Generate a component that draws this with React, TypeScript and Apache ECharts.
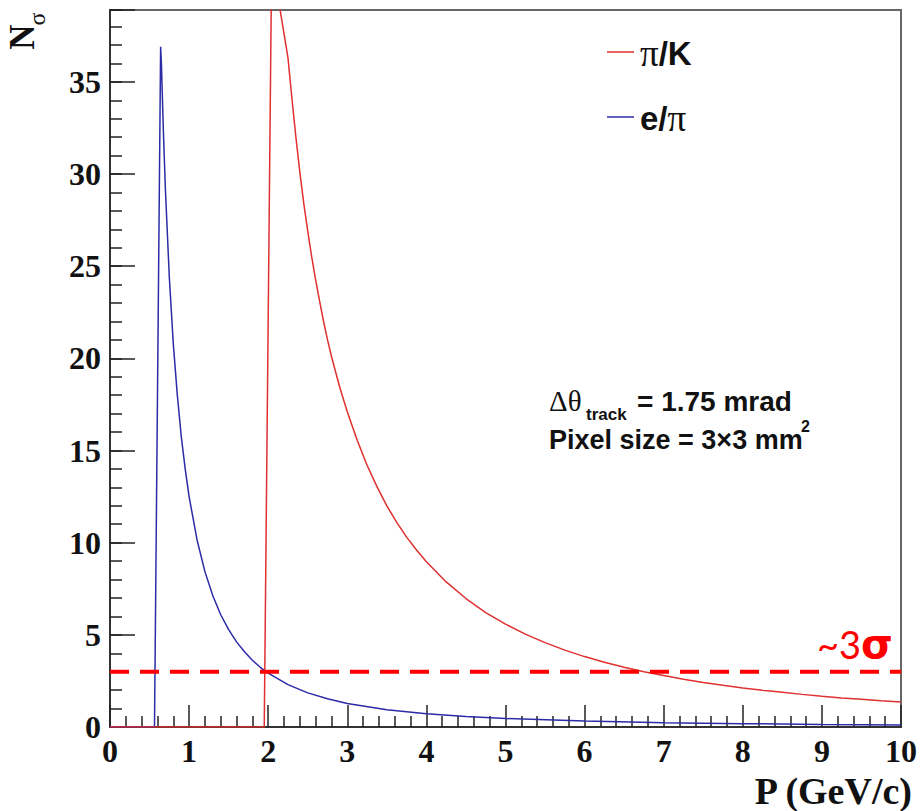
import React, { useEffect, useRef } from "react";
import * as echarts from "echarts";

// pi/K separation (momentum GeV/c, N sigma)
const piKMomentum = [0, 1.95, 2.044, 2.25, 2.3, 2.35, 2.4, 2.45, 2.5, 2.55, 2.6, 2.65, 2.7, 2.75, 2.8, 2.85, 2.9, 2.95, 3.0, 3.125, 3.25, 3.375, 3.5, 3.625, 3.75, 3.875, 4.0, 4.25, 4.5, 4.75, 5.0, 5.25, 5.5, 5.75, 6.0, 6.25, 6.5, 6.75, 7.0, 7.25, 7.5, 7.75, 8.0, 8.25, 8.5, 8.75, 9.0, 9.25, 9.5, 9.75, 10.0];
const piKNsigma = [0, 0, 41.7, 36.3, 34.1, 32.0, 30.1, 28.4, 26.9, 25.5, 24.25, 23.1, 22.0, 21.0, 20.1, 19.3, 18.5, 17.8, 17.1, 15.56, 14.2, 13.04, 12.0, 11.1, 10.3, 9.6, 8.97, 7.87, 6.97, 6.21, 5.58, 5.04, 4.58, 4.17, 3.82, 3.51, 3.24, 3.0, 2.79, 2.59, 2.42, 2.26, 2.12, 1.99, 1.88, 1.77, 1.67, 1.58, 1.5, 1.42, 1.35];

// e/pi separation
const ePiMomentum = [0, 0.5625, 0.64, 0.65, 0.675, 0.7, 0.75, 0.8, 0.85, 0.9, 0.95, 1.0, 1.1, 1.2, 1.3, 1.4, 1.5, 1.6, 1.7, 1.8, 1.9, 2.0, 2.25, 2.5, 2.75, 3.0, 3.5, 4.0, 4.5, 5.0, 6.0, 7.0, 8.0, 9.0, 10.0];
const ePiNsigma = [0, 0, 36.9, 36.0, 32.3, 29.2, 24.4, 20.8, 18.06, 15.8, 14.02, 12.5, 10.16, 8.43, 7.12, 6.09, 5.28, 4.62, 4.08, 3.62, 3.24, 2.92, 2.3, 1.85, 1.53, 1.28, 0.94, 0.72, 0.57, 0.46, 0.32, 0.235, 0.18, 0.142, 0.115];

const threshold = 3;
const xMin = 0;
const xMax = 10;
const yMin = 0;
const yMax = 38.9;

const serif = "'Liberation Serif', 'Times New Roman', serif";
const sans = "'Liberation Sans', Arial, sans-serif";

export default function App() {
  const ref = useRef<HTMLDivElement>(null);
  useEffect(() => {
    if (!ref.current) return;
    const chart = echarts.init(ref.current, undefined, { renderer: "svg" });
    const piK = piKMomentum.map((p, i) => [p, piKNsigma[i]]);
    const ePi = ePiMomentum.map((p, i) => [p, ePiNsigma[i]]);
    const tickLabel = { fontFamily: serif, fontWeight: "bold" as const, fontSize: 32, color: "#111" };
    chart.setOption({
      animation: false,
      backgroundColor: "#fff",
      grid: { left: 110, right: 11, top: 10, bottom: 84, show: true, borderColor: "#666", borderWidth: 2, backgroundColor: "transparent" },
      xAxis: {
        type: "value",
        min: xMin,
        max: xMax,
        interval: 1,
        axisLine: { show: true, lineStyle: { color: "#333", width: 2 } },
        axisTick: { show: true, inside: true, length: 22, lineStyle: { color: "#222", width: 1.5 } },
        minorTick: { show: true, splitNumber: 5, length: 11, lineStyle: { color: "#222", width: 1.5 } },
        axisLabel: { ...tickLabel, margin: 8 },
        splitLine: { show: false },
      },
      yAxis: [
        {
          type: "value",
          min: yMin,
          max: yMax,
          interval: 1,
          axisLine: { show: true, lineStyle: { color: "#333", width: 2 } },
          axisTick: { show: true, inside: true, length: 12, lineStyle: { color: "#222", width: 1.5 } },
          axisLabel: {
            ...tickLabel,
            margin: 9,
            formatter: (v: number) => (Math.abs(v % 5) < 1e-9 ? String(v) : ""),
          },
          splitLine: { show: false },
        },
        {
          type: "value",
          min: yMin,
          max: yMax,
          interval: 5,
          position: "left",
          axisLine: { show: false },
          axisTick: { show: true, inside: true, length: 25, lineStyle: { color: "#222", width: 1.5 } },
          axisLabel: { show: false },
          splitLine: { show: false },
        },
      ],
      series: [
        {
          name: "e/π",
          type: "line",
          data: ePi,
          showSymbol: false,
          yAxisIndex: 0,
          lineStyle: { color: "#2b2ba8", width: 1.5 },
          itemStyle: { color: "#2b2ba8" },
          z: 3,
        },
        {
          name: "π/K",
          type: "line",
          data: piK,
          showSymbol: false,
          yAxisIndex: 0,
          lineStyle: { color: "#e0302f", width: 1.5 },
          itemStyle: { color: "#e0302f" },
          z: 4,
        },
        {
          name: "~3σ",
          type: "line",
          data: [[xMin, threshold], [xMax, threshold]],
          showSymbol: false,
          yAxisIndex: 0,
          lineStyle: { color: "#ff0000", width: 4, type: [19, 11] },
          z: 5,
        },
      ],
      graphic: [
        // y-axis title N_sigma
        { type: "text", x: 22, y: 37, rotation: Math.PI / 2, style: { text: "N", fontFamily: serif, fontWeight: "bold", fontSize: 35, fill: "#111", align: "center", verticalAlign: "middle" } },
        { type: "text", x: 37, y: 19, rotation: Math.PI / 2, style: { text: "σ", fontFamily: serif, fontSize: 24, fill: "#111", align: "center", verticalAlign: "middle" } },
        // x-axis title
        { type: "text", x: 912, y: 791, style: { text: "P (GeV/c)", fontFamily: serif, fontWeight: "bold", fontSize: 38, fill: "#111", align: "right", verticalAlign: "middle" } },
        // legend
        { type: "line", shape: { x1: 607, y1: 52, x2: 634, y2: 52 }, style: { stroke: "#e0302f", lineWidth: 1.5 } },
        { type: "text", x: 640, y: 53, style: { text: "{a|π}{b|/K}", fill: "#111", verticalAlign: "middle", rich: { a: { fontFamily: serif, fontSize: 37, fill: "#111" }, b: { fontFamily: sans, fontWeight: "bold", fontSize: 33, fill: "#111" } } } },
        { type: "line", shape: { x1: 607, y1: 117, x2: 634, y2: 117 }, style: { stroke: "#2b2ba8", lineWidth: 1.5 } },
        { type: "text", x: 640, y: 118, style: { text: "{b|e/}{a|π}", fill: "#111", verticalAlign: "middle", rich: { a: { fontFamily: serif, fontSize: 37, fill: "#111" }, b: { fontFamily: sans, fontWeight: "bold", fontSize: 33, fill: "#111" } } } },
        // annotation
        { type: "text", x: 549, y: 401, style: { text: "Δθ", fontFamily: serif, fontSize: 29, fill: "#111", verticalAlign: "middle" } },
        { type: "text", x: 586, y: 414, style: { text: "track", fontFamily: sans, fontWeight: "bold", fontSize: 17, fill: "#111", verticalAlign: "middle" } },
        { type: "text", x: 637, y: 401, style: { text: "= 1.75 mrad", fontFamily: sans, fontWeight: "bold", fontSize: 28, fill: "#111", verticalAlign: "middle" } },
        { type: "text", x: 549, y: 440, style: { text: "Pixel size = 3×3 mm", fontFamily: sans, fontWeight: "bold", fontSize: 27, fill: "#111", verticalAlign: "middle" } },
        { type: "text", x: 801, y: 426, style: { text: "2", fontFamily: sans, fontWeight: "bold", fontSize: 16, fill: "#111", verticalAlign: "middle" } },
        // ~3 sigma label
        { type: "text", x: 817, y: 644, style: { text: "{a|~3}{b|σ}", verticalAlign: "middle", rich: { a: { fontFamily: "Lato, 'Open Sans', sans-serif", fontSize: 38, fill: "#ff0000" }, b: { fontFamily: "'DejaVu Sans', sans-serif", fontWeight: "bold", fontSize: 41, fill: "#ff0000" } } } },
      ],
    });
    return () => chart.dispose();
  }, []);
  return <div ref={ref} style={{ position: "fixed", left: 0, top: 0, width: 920, height: 811, background: "#fff" }} />;
}
